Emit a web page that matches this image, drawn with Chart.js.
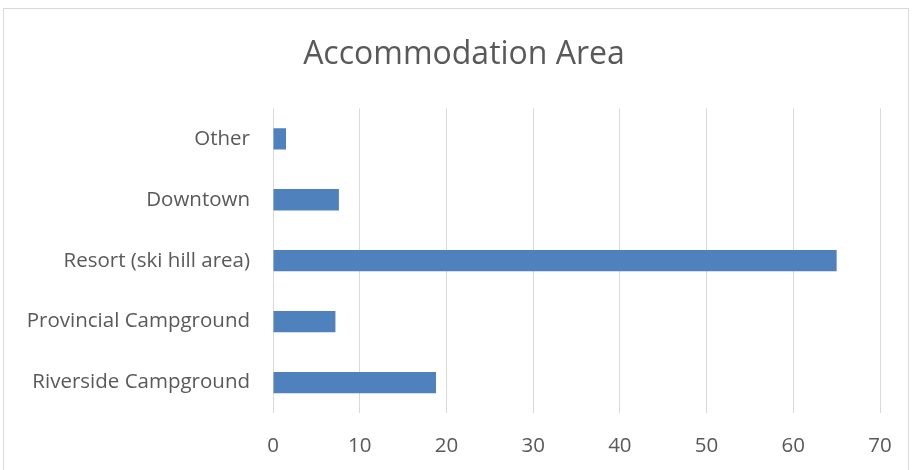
<!DOCTYPE html>
<html>
<head>
<meta charset="utf-8">
<script src="https://cdn.jsdelivr.net/npm/chart.js@4"></script>
<style>
  html, body { margin: 0; padding: 0; background: #fff; }
  .frame { position: absolute; left: 3px; top: 8px; width: 906px; height: 470px; border: 1px solid #d9d9d9; box-sizing: border-box; }
  .wrap { position: absolute; left: 0; top: 0; width: 913px; height: 470px; }
</style>
</head>
<body>
<div class="frame"></div>
<div class="wrap"><canvas id="accChart" width="913" height="470"></canvas></div>
<script>
const categories = ['Other', 'Downtown', 'Resort (ski hill area)', 'Provincial Campground', 'Riverside Campground'];
const values = [1.5, 7.6, 65, 7.2, 18.8];
const xTicks = [0, 10, 20, 30, 40, 50, 60, 70];

const font = "'Open Sans', 'DejaVu Sans', sans-serif";
const textColor = '#595959';
const gridColor = '#d9d9d9';

// nudge the title so it sits centred on the frame, not the plot
const titleShift = {
  id: 'titleShift',
  afterLayout(chart) { chart.titleBlock.left += 48; }
};

const ctx = document.getElementById('accChart').getContext('2d');
new Chart(ctx, {
  type: 'bar',
  data: {
    labels: categories,
    datasets: [{
      label: 'Accommodation Area',
      data: values,
      backgroundColor: '#4f81bd',
      borderWidth: 0,
      categoryPercentage: 1,
      barPercentage: 0.35
    }]
  },
  options: {
    indexAxis: 'y',
    responsive: false,
    animation: false,
    layout: { padding: { top: 0, right: 33, bottom: 0, left: 0 } },
    scales: {
      x: {
        min: 0,
        max: 70,
        afterBuildTicks: s => { s.ticks = xTicks.map(v => ({ value: v })); },
        afterFit: s => { s.height = 57; },
        grid: { color: gridColor, lineWidth: 1, drawTicks: false },
        border: { display: false },
        ticks: { color: textColor, font: { family: font, size: 20.5 }, padding: 21 }
      },
      y: {
        afterFit: s => { s.width = 273; },
        grid: { display: false, drawTicks: false },
        border: { display: false },
        ticks: { color: textColor, font: { family: font, size: 20.5 }, padding: 23 }
      }
    },
    plugins: {
      legend: { display: false },
      tooltip: { enabled: false },
      title: {
        display: true,
        text: 'Accommodation Area',
        color: textColor,
        font: { family: font, size: 32, weight: 'normal' },
        padding: { top: 36, bottom: 34 }
      }
    }
  },
  plugins: [titleShift]
});
</script>
</body>
</html>
